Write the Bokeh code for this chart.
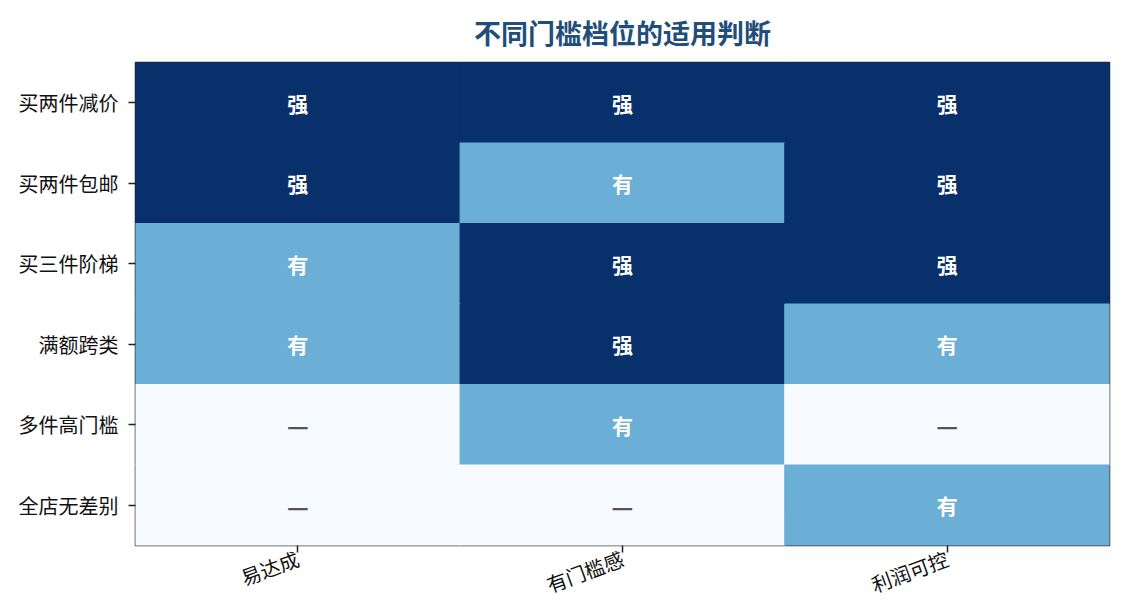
from bokeh.plotting import figure
from bokeh.models import ColumnDataSource
from bokeh.core.properties import value
from bokeh.embed import file_html
from bokeh.resources import INLINE

columns = ["易达成", "有门槛感", "利润可控"]
rows = ["买两件减价", "买两件包邮", "买三件阶梯", "满额跨类", "多件高门槛", "全店无差别"]
# 2 = 强, 1 = 有, 0 = —
levels = [
    [2, 2, 2],
    [2, 1, 2],
    [1, 2, 2],
    [1, 2, 1],
    [0, 1, 0],
    [0, 0, 1],
]
level_text = {2: "强", 1: "有", 0: "—"}
level_color = {2: "#08306b", 1: "#6baed6", 0: "#f7fbff"}

xs, ys, cs, vs = [], [], [], []
for r, row in zip(rows, levels):
    for c, v in zip(columns, row):
        xs.append(c); ys.append(r); cs.append(level_color[v]); vs.append(v)
src = ColumnDataSource(dict(x=xs, y=ys, color=cs))
src_txt = ColumnDataSource(dict(
    x=[x for x, v in zip(xs, vs) if v > 0],
    y=[y for y, v in zip(ys, vs) if v > 0],
    text=[level_text[v] for v in vs if v > 0]))
src_dash = ColumnDataSource(dict(
    x=[x for x, v in zip(xs, vs) if v == 0],
    y=[y for y, v in zip(ys, vs) if v == 0],
    text=[level_text[v] for v in vs if v == 0]))

FONT = "Noto Sans CJK SC"
p = figure(x_range=columns, y_range=list(reversed(rows)), width=1117, height=615,
           output_backend="svg", toolbar_location=None,
           title="不同门槛档位的适用判断")
p.min_border_left = 135
p.min_border_right = 8
p.min_border_top = 62
p.min_border_bottom = 62

p.title.align = "center"
p.title.text_font = FONT
p.title.text_font_size = "27px"
p.title.text_color = "#1f4e79"
p.title.text_font_style = "bold"
p.title.offset = 0
p.title.standoff = 21

p.rect(x="x", y="y", width=1, height=1, source=src, fill_color="color",
       line_color="color", line_width=1.2)
p.text(x="x", y="y", text="text", source=src_txt, text_color="#ffffff",
       text_align="center", text_baseline="middle", text_font=value(FONT),
       text_font_size="21px", text_font_style="bold")
p.text(x="x", y="y", text="text", source=src_dash, text_color="#555555",
       text_align="center", text_baseline="middle", text_font=value(FONT),
       text_font_size="24px", text_font_style="bold")

p.xgrid.visible = False
p.ygrid.visible = False
p.outline_line_color = "#222222"
p.outline_line_width = 1.5
for ax in (p.xaxis, p.yaxis):
    ax.axis_line_color = None
    ax.major_tick_line_color = "#222222"
    ax.major_tick_line_width = 1.5
    ax.major_tick_out = 7
    ax.major_tick_in = 0
    ax.minor_tick_line_color = None
    ax.major_label_text_font = FONT
    ax.major_label_text_font_size = "20px"
    ax.major_label_text_color = "#111111"
p.xaxis.major_label_orientation = 0.35
p.yaxis.major_label_standoff = 10
p.xaxis.major_label_standoff = 5
p.background_fill_color = "white"
p.border_fill_color = "white"

open("out.html", "w").write(file_html(p, INLINE))
